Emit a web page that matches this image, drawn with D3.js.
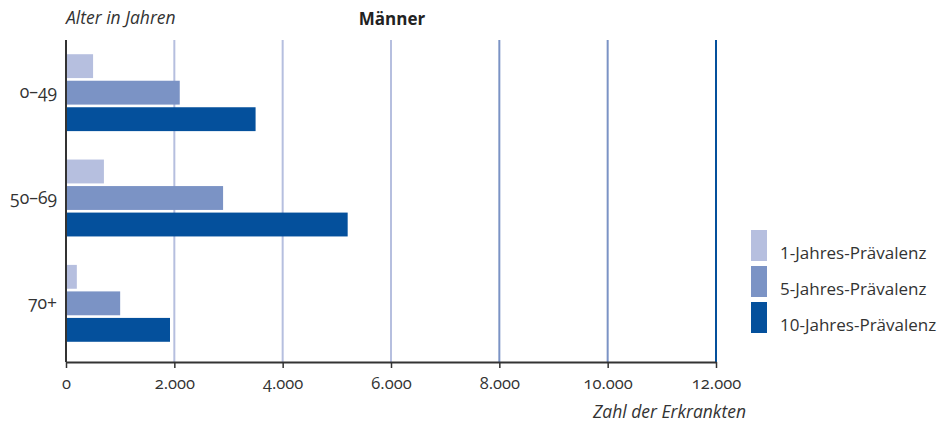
<!DOCTYPE html>
<html>
<head>
<meta charset="utf-8">
<script src="https://cdn.jsdelivr.net/npm/d3@7"></script>
<style>
  html, body { margin: 0; padding: 0; background: #fff; }
  svg { display: block; font-family: "Open Sans", Lato, sans-serif; }
  .tick text { font-variant-numeric: oldstyle-nums; }
</style>
</head>
<body>
<svg id="chart" width="946" height="426"></svg>
<script>
// Age groups and prevalence counts (men)
const ageGroups = ["0–49", "50–69", "70+"];
const seriesNames = ["1-Jahres-Prävalenz", "5-Jahres-Prävalenz", "10-Jahres-Prävalenz"];
const prev1 = [500, 700, 200];
const prev5 = [2100, 2900, 1000];
const prev10 = [3500, 5200, 1920];
const xTicks = [0, 2000, 4000, 6000, 8000, 10000, 12000];
const seriesColors = ["#b6bfdf", "#7b93c5", "#04509c"];
const gridColors = ["#b6bfdf", "#b6bfdf", "#b6bfdf", "#b6bfdf", "#7b93c5", "#7b93c5", "#04509c"];

const seriesValues = [prev1, prev5, prev10];
const rows = ageGroups.map((g, i) => ({ group: g, values: seriesValues.map(s => s[i]) }));

const svg = d3.select("#chart");
const x0 = 66, x1 = 716, yTop = 40, yBase = 362;

const x = d3.scaleLinear().domain([0, 12000]).range([x0, x1]);
const y = d3.scaleBand().domain(ageGroups).range([yTop, 356])
  .paddingInner(0.27).paddingOuter(0.135);
const ySub = d3.scaleBand().domain(d3.range(3)).range([0, y.bandwidth()])
  .paddingInner(0.1).paddingOuter(0);

// vertical grid lines
svg.append("g").selectAll("line").data(xTicks.slice(1)).join("line")
  .attr("x1", d => x(d)).attr("x2", d => x(d))
  .attr("y1", yTop).attr("y2", yBase)
  .attr("stroke", (d, i) => gridColors[i + 1])
  .attr("stroke-width", 2);

// bars
const groups = svg.append("g").selectAll("g").data(rows).join("g")
  .attr("transform", d => `translate(0,${y(d.group)})`);
groups.selectAll("rect").data(d => d.values).join("rect")
  .attr("x", x(0))
  .attr("y", (d, i) => ySub(i))
  .attr("height", ySub.bandwidth())
  .attr("width", d => x(d) - x(0))
  .attr("fill", (d, i) => seriesColors[i]);

// x axis
const xAxis = d3.axisBottom(x).tickValues(xTicks)
  .tickFormat(d => d3.format(",")(d).replace(/,/g, "."))
  .tickSize(6).tickSizeOuter(0).tickPadding(9);
const gx = svg.append("g").attr("transform", `translate(0,${yBase})`).call(xAxis);
gx.select(".domain").attr("stroke", "#333").attr("stroke-width", 2);
gx.selectAll(".tick line").attr("stroke", "#333").attr("stroke-width", 1.5);
gx.selectAll(".tick text").attr("fill", "#333").attr("font-size", 16.5)
  .attr("font-family", "'Open Sans', sans-serif");

// y axis
const yAxis = d3.axisLeft(y).tickSize(0).tickPadding(9);
const gy = svg.append("g").attr("transform", `translate(${x0},0)`).call(yAxis);
gy.select(".domain").attr("stroke", "#333").attr("stroke-width", 2)
  .attr("d", `M0,${yTop}V${yBase}`);
gy.selectAll(".tick text").attr("fill", "#333").attr("font-size", 17.5)
  .attr("font-family", "'Open Sans', sans-serif");

// titles
svg.append("text").attr("x", x0).attr("y", 24)
  .attr("font-style", "italic").attr("font-size", 17.5).attr("fill", "#333")
  .text("Alter in Jahren");
svg.append("text").attr("x", 392).attr("y", 25).attr("text-anchor", "middle")
  .attr("font-weight", "bold").attr("font-size", 17).attr("fill", "#222")
  .text("Männer");
svg.append("text").attr("x", 746).attr("y", 418).attr("text-anchor", "end")
  .attr("font-style", "italic").attr("font-size", 17.5).attr("fill", "#333")
  .text("Zahl der Erkrankten");

// legend
const legend = svg.append("g").attr("transform", "translate(751,230)");
const li = legend.selectAll("g").data(seriesNames).join("g")
  .attr("transform", (d, i) => `translate(0,${i * 36})`);
li.append("rect").attr("width", 16).attr("height", 31)
  .attr("fill", (d, i) => seriesColors[i]);
li.append("text").attr("x", 29).attr("y", 29)
  .attr("font-size", 17).attr("fill", "#333").text(d => d);
</script>
</body>
</html>
